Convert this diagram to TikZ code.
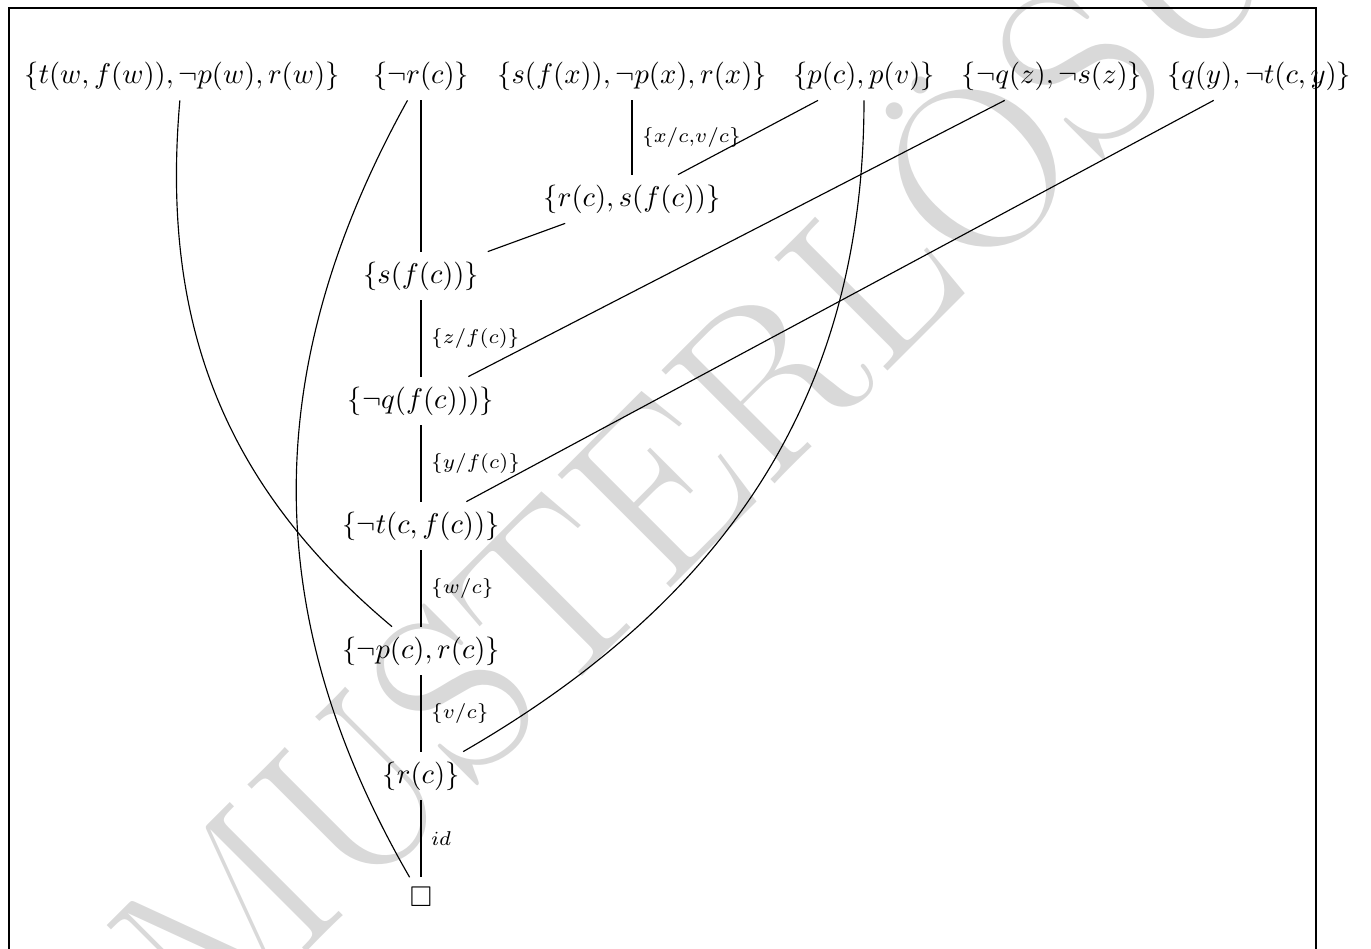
\documentclass[tikz,border=0pt]{standalone}
\usepackage{amssymb}
\begin{document}
\begin{tikzpicture}[x=0.35pt,y=0.35pt,
  lab/.style={font=\scriptsize, midway, right},
  wmark/.style={rotate=45,text=black!15,font=\fontsize{82}{82}\selectfont}]
\useasboundingbox (0,0) rectangle (1371,-949);
\clip (0,0) rectangle (1371,-949);
% watermark
\node[wmark] (wm) at (805,-324) {MUSTERLÖSUNG};
% frame
\draw (9,-960) -- (9,-8) -- (1316,-8) -- (1316,-960);
% clauses
\node (t) at (182,-76) {$\{t(w,f(w)),\neg p(w),r(w)\}$};
\node (nr) at (421,-76) {$\{\neg r(c)\}$};
\node (s) at (632,-76) {$\{s(f(x)),\neg p(x),r(x)\}$};
\node (p) at (864,-76) {$\{p(c),p(v)\}$};
\node (nq) at (1052,-76) {$\{\neg q(z),\neg s(z)\}$};
\node (q) at (1259,-76) {$\{q(y),\neg t(c,y)\}$};
\node (rs) at (632,-199) {$\{r(c),s(f(c))\}$};
\node (sf) at (421,-276) {$\{s(f(c))\}$};
\node (nqf) at (421,-401) {$\{\neg q(f(c)))\}$};
\node (ntf) at (421,-526) {$\{\neg t(c,f(c))\}$};
\node (npr) at (421,-651) {$\{\neg p(c),r(c)\}$};
\node (rc) at (421,-776) {$\{r(c)\}$};
\node (box) at (421,-897) {$\square$};
% connectors
\draw (s) -- node[lab]{$\{x/c$,$v/c\}$} (rs);
\draw (p) -- (rs);
\draw (rs) -- (sf);
\draw (nr) -- (sf);
\draw (sf) -- node[lab]{$\{z/f(c)\}$} (nqf);
\draw (nq) -- (nqf);
\draw (nqf) -- node[lab]{$\{y/f(c)\}$} (ntf);
\draw (q) -- (ntf);
\draw (ntf) -- node[lab]{$\{w/c\}$} (npr);
\draw (t) to[out=-95,in=140] (npr);
\draw (npr) -- node[lab]{$\{v/c\}$} (rc);
\draw (p) to[out=-90,in=30] (rc);
\draw (rc) -- node[lab]{$id$} (box);
\draw (nr) to[out=-119,in=120] (box);
\end{tikzpicture}
\end{document}
